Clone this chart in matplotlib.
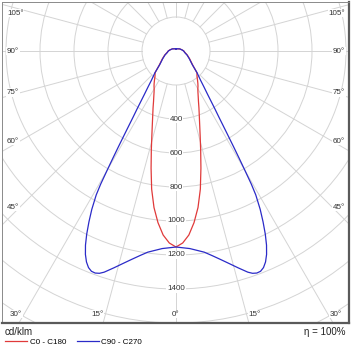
import numpy as np
import matplotlib
matplotlib.use("Agg")
import matplotlib.pyplot as plt
from matplotlib.patches import Circle

plt.rcParams["font.family"] = ["Liberation Sans", "DejaVu Sans"]

# C0 - C180 (red), gamma angle in degrees and intensity in cd/klm
gamma_red = [0, 2, 4, 6, 8, 10, 12, 14, 16, 18, 20, 22, 24, 26, 28, 30, 32, 34,
             36, 38, 40, 44, 50, 60, 70, 80, 90, 100, 120, 150, 180]
cd_red = [1153, 1130, 1085, 1015, 930, 825, 705, 600, 515, 450, 400, 360, 325,
          298, 275, 257, 244, 230, 216, 203, 192, 177, 128, 93, 71, 54, 46, 37,
          25, 15, 12]

# C90 - C270 (blue)
gamma_blue = [0, 4, 8, 10, 12, 14, 16, 18, 19, 20, 21, 22, 23, 24, 25, 26, 27,
              28, 29, 29.5, 30, 30.5, 31, 32, 33, 34, 36, 38, 40, 44, 50, 60, 70,
              80, 90, 100, 120, 150, 180]
cd_blue = [1153, 1165, 1195, 1222, 1253, 1288, 1327, 1368, 1383, 1390, 1388,
           1374, 1348, 1310, 1260, 1198, 1128, 1055, 968, 900, 810, 730, 660,
           545, 462, 405, 318, 265, 225, 179, 125, 90, 69, 52, 45, 36, 25, 15, 12]

ring_values = [200, 400, 600, 800, 1000, 1200, 1400, 1600, 1800, 2000]
ring_labels = [400, 600, 800, 1000, 1200, 1400]
ray_angles = list(range(0, 360, 15))
angle_labels = [0, 15, 30, 45, 60, 75, 90, 105]

series_names = ["C0 - C180", "C90 - C270"]
series_colors = ["#e03a3a", "#2b2bc8"]
unit_text = "cd/klm"
eta_text = "\u03b7 = 100%"

W = H = 351
PX = 200 / 34.0  # cd/klm per pixel
cx, cy = 176, 51  # pole position in pixels
x0, x1 = (2 - cx) * PX, (349 - cx) * PX
y0, y1 = -(323 - cy) * PX, (cy - 2) * PX

fig = plt.figure(figsize=(W / 100, H / 100), dpi=100)
ax = fig.add_axes([2 / W, 28 / H, 347 / W, 321 / H])
ax.set_xlim(x0, x1)
ax.set_ylim(y0, y1)
ax.set_aspect("equal")
ax.set_xticks([])
ax.set_yticks([])

for side in ["left", "top"]:
    ax.spines[side].set_linewidth(0.7)
    ax.spines[side].set_color("#8a8a8a")
for side in ["right", "bottom"]:
    ax.spines[side].set_linewidth(1.6)
    ax.spines[side].set_color("#5a5a5a")

grid_col = "#d4d4d4"
for r in ring_values:
    ax.add_patch(Circle((0, 0), r, fill=False, ec=grid_col, lw=0.7, zorder=1))
for a in ray_angles:
    t = np.radians(a)
    ax.plot([200 * np.sin(t), 2200 * np.sin(t)],
            [-200 * np.cos(t), -2200 * np.cos(t)],
            color=grid_col, lw=0.7, zorder=1)

fs = 5.8
box = dict(facecolor="white", edgecolor="none", pad=0.6)
for v in ring_labels:
    ax.text(0, -v, str(v), ha="center", va="center", fontsize=fs,
            color="#333333", bbox=box, zorder=2)

# angle labels along the frame
for a in angle_labels:
    t = np.radians(a)
    for s in ([1] if a == 0 else [-1, 1]):
        if a == 0:
            ax.text(0, -(314 - cy) * PX, "0\u00b0", ha="center", va="center",
                    fontsize=fs, color="#333333", bbox=box, zorder=2)
            continue
        bottom_y = (314 - cy) * PX
        # x where ray reaches the bottom label line
        xb = bottom_y * np.tan(t) if a < 90 else np.inf
        if xb < 156 * PX:
            xpos = s * (xb + 2 * PX)
            ax.text(xpos, -bottom_y, f"{a}\u00b0",
                    ha="left" if s > 0 else "right", va="center",
                    fontsize=fs, color="#333333", bbox=box, zorder=2)
        else:
            yray = -156 * PX / np.tan(t)
            yray = min(yray, (cy - 13) * PX)
            xpos = (345 - cx) * PX if s > 0 else (7 - cx) * PX
            ax.text(xpos, yray, f"{a}\u00b0",
                    ha="right" if s > 0 else "left", va="center",
                    fontsize=fs, color="#333333", bbox=box, zorder=2)


def mirrored(gam, val):
    g = np.radians(np.asarray(gam, dtype=float))
    v = np.asarray(val, dtype=float)
    xs = np.concatenate([-(v * np.sin(g))[::-1], v * np.sin(g)])
    ys = np.concatenate([-(v * np.cos(g))[::-1], -v * np.cos(g)])
    return xs, ys


handles = []
for gam, val, name, col in [(gamma_red, cd_red, series_names[0], series_colors[0]),
                            (gamma_blue, cd_blue, series_names[1], series_colors[1])]:
    xs, ys = mirrored(gam, val)
    ln, = ax.plot(xs, ys, color=col, lw=0.9, label=name, zorder=3,
                  solid_joinstyle="round")
    handles.append(ln)

fig.text(5 / W, 1 - 332 / H, unit_text, ha="left", va="center", fontsize=7,
         color="#222222")
fig.text(346 / W, 1 - 332 / H, eta_text, ha="right", va="center", fontsize=7,
         color="#222222")

fig.legend(handles=handles, loc="center left",
           bbox_to_anchor=(5 / W, 1 - 342 / H), ncol=2, frameon=False,
           fontsize=fs, handlelength=2.7, handletextpad=0.35,
           columnspacing=1.35, borderpad=0, borderaxespad=0)

fig.savefig("out.png", dpi=100)
